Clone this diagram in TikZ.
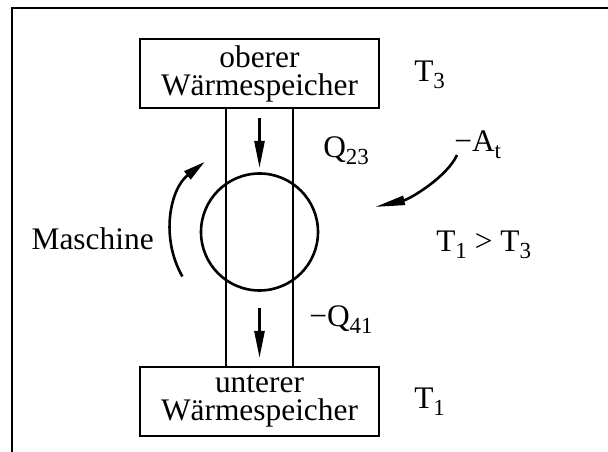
\documentclass[tikz,border=0pt]{standalone}
\usepackage{fontspec}
\setmainfont{Liberation Serif}
\usetikzlibrary{arrows.meta,calc}
\newcommand{\lsub}[1]{\raisebox{-7pt}{\fontsize{23}{23}\selectfont #1}}
\begin{document}
\begin{tikzpicture}[x=1pt,y=1pt,
  line width=2.6pt,
  every node/.style={font=\fontsize{31.4}{28}\selectfont, inner sep=0pt},
  store/.style={draw, rectangle, minimum width=239pt, minimum height=69pt, align=center},
  lbl/.style={anchor=base west},
  arr/.style={-{Triangle[length=27pt,width=10pt]}},
  arrs/.style={-{Triangle[length=22pt,width=10pt]}}]
\useasboundingbox (0,0) rectangle (608,452);
% frame
\coordinate (fr1) at (608,444);
\coordinate (fr2) at (12,444);
\coordinate (fr3) at (12,0);
\draw (fr1) -- (fr2) -- (fr3);
% reservoirs
\node[store] (top) at (259.5,378.5) {oberer\\Wärmespeicher};
\node[store] (bot) at (259.5,50.5) {unterer\\Wärmespeicher};
% channel
\coordinate (cl) at (226,0);
\coordinate (cr) at (293,0);
\draw (top.south -| cl) -- (bot.north -| cl);
\draw (top.south -| cr) -- (bot.north -| cr);
% machine circle
\node[draw, circle, minimum size=117pt] (mach) at (259.5,220) {};
% heat flow arrows
\coordinate (a1s) at (259.5,334);
\coordinate (a1e) at (259.5,284);
\draw[arr] (a1s) -- (a1e);
\coordinate (a2s) at (259.5,144);
\coordinate (a2e) at (259.5,94);
\draw[arr] (a2s) -- (a2e);
% rotation arrow
\draw[arrs] ($(mach.center)+(210:89)$) arc[start angle=210, end angle=128, radius=89];
\node[anchor=base east] (maschine) at (155,202) {Maschine};
% labels
\node[lbl] (q23) at (322,294) {Q\lsub{23}};
\node[lbl] (q41) at (308,125) {−Q\lsub{41}};
\node[lbl] (at) at (453,300) {−A\lsub{t}};
\node[lbl] (t3) at (413,370) {T\lsub{3}};
\node[lbl] (t1) at (413,43) {T\lsub{1}};
\node[lbl] (cmp) at (435,200) {T\lsub{1} > T\lsub{3}};
% work arrow
\coordinate (ws) at (457,297);
\coordinate (we) at (375,245);
\draw[-{Triangle[length=30pt,width=9pt]}] (ws) .. controls (447,275) and (410,253) .. (we);
\end{tikzpicture}
\end{document}
